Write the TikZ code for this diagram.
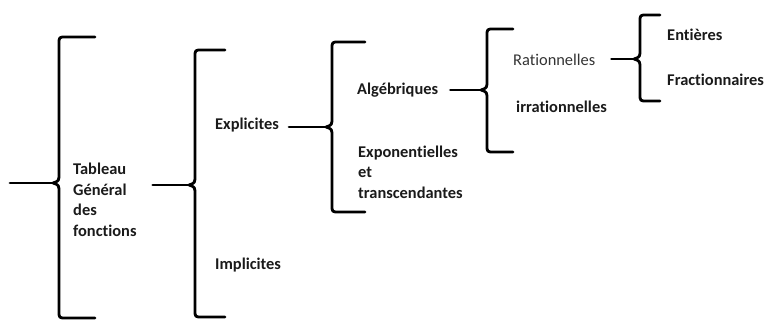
\documentclass[tikz,border=0pt]{standalone}
\usepackage{fontspec}
\setmainfont{Carlito}[RawFeature=-liga]
\usetikzlibrary{positioning}
\definecolor{txt}{HTML}{1A1A1A}
\definecolor{thin}{HTML}{333333}
% x, top, tip, bottom, hook
\newcommand{\curly}[5]{%
  \draw[curl] ({#1+#5},#2) -- ({#1+7},#2) .. controls (#1,#2) .. (#1,{#2+7})
    -- (#1,{#3-10}) .. controls (#1,{#3-2}) .. ({#1-6},#3)
    .. controls (#1,{#3+2}) .. (#1,{#3+10})
    -- (#1,{#4-7}) .. controls (#1,#4) .. ({#1+7},#4) -- ({#1+#5},#4);
}

\begin{document}
\begin{tikzpicture}[
  x=0.03cm, y=-0.03cm,
  word/.style={anchor=west, inner sep=0pt, font=\fontsize{14}{17.5}\selectfont\bfseries,
    text=txt, align=left},
  curl/.style={line width=2.4pt, line cap=round, line join=round},
  stem/.style={line width=2.4pt, line cap=round}
]
  \useasboundingbox (0,0) rectangle (764,320);

  \node[word] (tab) at (73,200) {Tableau\\Général\\des\\fonctions};
  \node[word] (expl) at (215,125) {Explicites};
  \node[word] (impl) at (215,265) {Implicites};
  \node[word] (alg) at (357,90) {Algébriques};
  \node[word] (expo) at (358,172) {Exponentielles\\et\\transcendantes};
  \node[word, font=\fontsize{14}{17.5}\selectfont, text=thin] (rat) at (513,60) {Rationnelles};
  \node[word] (irr) at (516,107) {irrationnelles};
  \node[word] (ent) at (667,35) {Entières};
  \node[word] (frac) at (667,80) {Fractionnaires};

  \coordinate (root) at (10,183);
  \coordinate (b1) at (53,183);
  \coordinate (b2) at (189,185);
  \coordinate (b3) at (326,127);
  \coordinate (b4) at (481,90);
  \coordinate (b5) at (634,59);

  \curly{59}{37}{183}{318}{36}
  \curly{195}{50}{185}{317}{30}
  \curly{332}{42}{127}{212}{33}
  \curly{487}{29}{90}{152}{26}
  \curly{640}{15}{59}{101}{20}

  \draw[stem] (root) -- (b1);
  \draw[stem] (tab.east |- b2) ++(16,0) -- (b2);
  \draw[stem] (expl.east |- b3) ++(10,0) -- (b3);
  \draw[stem] (alg.east |- b4) ++(12,0) -- (b4);
  \draw[stem] (rat.east |- b5) ++(16,0) -- (b5);
\end{tikzpicture}
\end{document}
